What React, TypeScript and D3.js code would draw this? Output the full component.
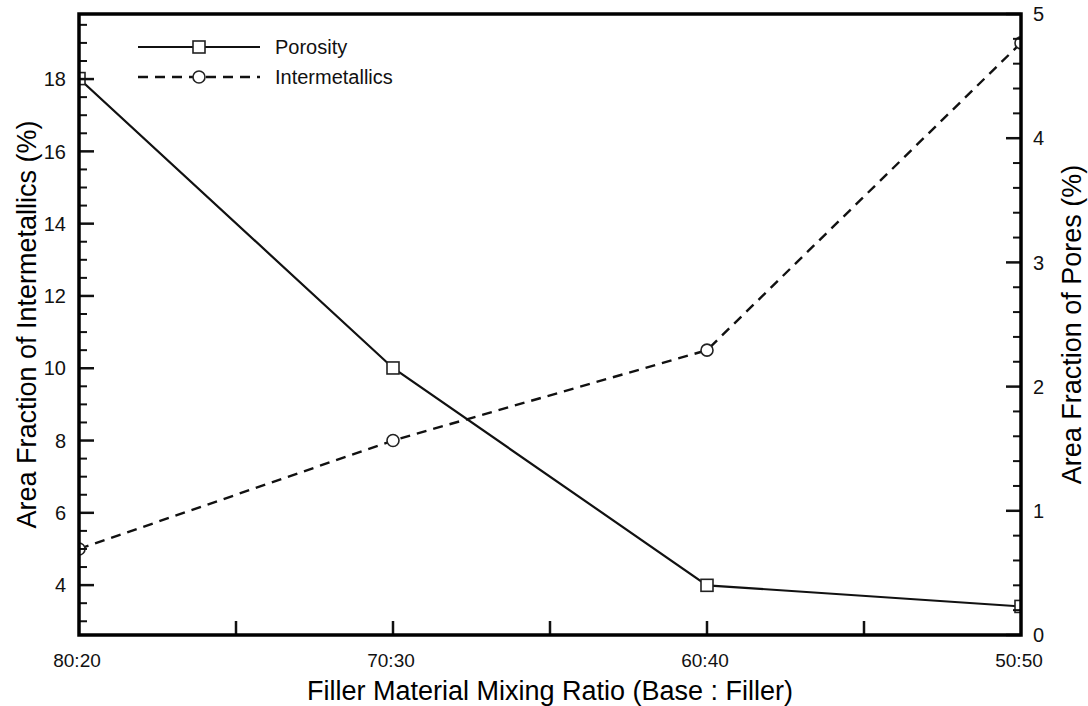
import React, { useRef, useEffect } from 'react';
import * as d3 from 'd3';

const ratios = ['80:20', '70:30', '60:40', '50:50'];
const porosity = [4.48, 2.15, 0.4, 0.23];
const intermetallics = [5.0, 8.0, 10.5, 19.0];
const leftTicks = [4, 6, 8, 10, 12, 14, 16, 18];
const rightTicks = [0, 1, 2, 3, 4, 5];
const leftDomain = [2.62, 19.8];
const rightDomain = [0, 5];

const FONT = '"Liberation Sans", Arial, Helvetica, sans-serif';

const App = () => {
    const ref = useRef<SVGSVGElement>(null);

    useEffect(() => {
        const svg = d3.select(ref.current);
        svg.selectAll('*').remove();

        const margin = { top: 14, right: 67, bottom: 71, left: 79 };
        const W = 1088, H = 706;
        const x0 = margin.left, x1 = W - margin.right;
        const y0 = H - margin.bottom, y1 = margin.top;

        const x = d3.scaleLinear().domain([0, ratios.length - 1]).range([x0, x1]);
        const yL = d3.scaleLinear().domain(leftDomain).range([y0, y1]);
        const yR = d3.scaleLinear().domain(rightDomain).range([y0, y1]);

        svg.append('defs').append('clipPath').attr('id', 'plotClip')
            .append('rect')
            .attr('x', x0).attr('y', y1)
            .attr('width', x1 - x0).attr('height', y0 - y1);

        const g = svg.append('g');
        const plot = g.append('g').attr('clip-path', 'url(#plotClip)');

        // data lines
        const linePor = d3.line<number>().x((_, i) => x(i)).y(d => yR(d));
        const lineInt = d3.line<number>().x((_, i) => x(i)).y(d => yL(d));

        plot.append('path')
            .datum(intermetallics)
            .attr('d', lineInt)
            .attr('fill', 'none')
            .attr('stroke', '#111')
            .attr('stroke-width', 2.4)
            .attr('stroke-dasharray', '10,7');

        plot.append('path')
            .datum(porosity)
            .attr('d', linePor)
            .attr('fill', 'none')
            .attr('stroke', '#111')
            .attr('stroke-width', 2.2);

        // markers
        plot.selectAll('.circ').data(intermetallics).enter().append('circle')
            .attr('cx', (_, i) => x(i))
            .attr('cy', d => yL(d))
            .attr('r', 6)
            .attr('fill', '#fff')
            .attr('stroke', '#222')
            .attr('stroke-width', 1.6);

        plot.selectAll('.sq').data(porosity).enter().append('rect')
            .attr('x', (_, i) => x(i) - 6)
            .attr('y', d => yR(d) - 6)
            .attr('width', 12)
            .attr('height', 12)
            .attr('fill', '#fff')
            .attr('stroke', '#222')
            .attr('stroke-width', 1.6);

        // left axis ticks (inward)
        const leftMinor = d3.range(3, 19.8, 0.5).filter(v => !leftTicks.includes(v));
        g.selectAll('.lmin').data(leftMinor).enter().append('line')
            .attr('x1', x0).attr('x2', x0 + 8)
            .attr('y1', d => yL(d)).attr('y2', d => yL(d))
            .attr('stroke', '#111').attr('stroke-width', 2);
        g.selectAll('.lmaj').data(leftTicks).enter().append('line')
            .attr('x1', x0).attr('x2', x0 + 15)
            .attr('y1', d => yL(d)).attr('y2', d => yL(d))
            .attr('stroke', '#111').attr('stroke-width', 2.5);
        g.selectAll('.llab').data(leftTicks).enter().append('text')
            .attr('x', x0 - 13)
            .attr('y', d => yL(d))
            .attr('dy', '0.36em')
            .attr('text-anchor', 'end')
            .style('font-family', FONT)
            .style('font-size', '20px')
            .attr('fill', '#111')
            .text(d => d);

        // right axis ticks (inward)
        const rightMinor = d3.range(0.2, 5, 0.2).filter(v => Math.abs(v - Math.round(v)) > 0.01);
        g.selectAll('.rmin').data(rightMinor).enter().append('line')
            .attr('x1', x1).attr('x2', x1 - 8)
            .attr('y1', d => yR(d)).attr('y2', d => yR(d))
            .attr('stroke', '#111').attr('stroke-width', 2);
        g.selectAll('.rmaj').data(rightTicks).enter().append('line')
            .attr('x1', x1).attr('x2', x1 - 15)
            .attr('y1', d => yR(d)).attr('y2', d => yR(d))
            .attr('stroke', '#111').attr('stroke-width', 2.5);
        g.selectAll('.rlab').data(rightTicks).enter().append('text')
            .attr('x', x1 + 12)
            .attr('y', d => yR(d))
            .attr('dy', '0.36em')
            .attr('text-anchor', 'start')
            .style('font-family', FONT)
            .style('font-size', '20px')
            .attr('fill', '#111')
            .text(d => d);

        // bottom axis ticks (inward), half steps
        const xTicks = d3.range(0.5, ratios.length - 1, 0.5);
        g.selectAll('.xt').data(xTicks).enter().append('line')
            .attr('x1', d => x(d)).attr('x2', d => x(d))
            .attr('y1', y0).attr('y2', y0 - 14)
            .attr('stroke', '#111').attr('stroke-width', 2.5);
        g.selectAll('.xlab').data(ratios).enter().append('text')
            .attr('x', (_, i) => x(i) - 2)
            .attr('y', y0 + 25)
            .attr('dy', '0.36em')
            .attr('text-anchor', 'middle')
            .style('font-family', FONT)
            .style('font-size', '19px')
            .attr('fill', '#111')
            .text(d => d);

        // frame
        g.append('rect')
            .attr('x', x0).attr('y', y1)
            .attr('width', x1 - x0).attr('height', y0 - y1)
            .attr('fill', 'none')
            .attr('stroke', '#000')
            .attr('stroke-width', 3.5);

        // axis titles
        g.append('text')
            .attr('x', (x0 + x1) / 2)
            .attr('y', 690)
            .attr('dy', '0.36em')
            .attr('text-anchor', 'middle')
            .style('font-family', FONT)
            .style('font-size', '27px')
            .attr('fill', '#000')
            .text('Filler Material Mixing Ratio (Base : Filler)');

        g.append('text')
            .attr('transform', `translate(26,${(y0 + y1) / 2}) rotate(-90)`)
            .attr('dy', '0.36em')
            .attr('text-anchor', 'middle')
            .style('font-family', FONT)
            .style('font-size', '27px')
            .attr('fill', '#000')
            .text('Area Fraction of Intermetallics (%)');

        g.append('text')
            .attr('transform', `translate(1071,${(y0 + y1) / 2}) rotate(-90)`)
            .attr('dy', '0.36em')
            .attr('text-anchor', 'middle')
            .style('font-family', FONT)
            .style('font-size', '27px')
            .attr('fill', '#000')
            .text('Area Fraction of Pores (%)');

        // legend
        const legendItems = [
            { name: 'Porosity', dash: null, shape: 'square' },
            { name: 'Intermetallics', dash: '10,7', shape: 'circle' }
        ];
        const legend = g.selectAll('.legend').data(legendItems).enter().append('g')
            .attr('transform', (_, i) => `translate(138,${47 + i * 30})`);
        legend.append('line')
            .attr('x1', 0).attr('x2', 122)
            .attr('stroke', '#111')
            .attr('stroke-width', d => d.dash ? 2.4 : 2.2)
            .attr('stroke-dasharray', d => d.dash);
        legend.each(function (d) {
            const sel = d3.select(this);
            if (d.shape === 'square') {
                sel.append('rect')
                    .attr('x', 61 - 6).attr('y', -6)
                    .attr('width', 12).attr('height', 12)
                    .attr('fill', '#fff').attr('stroke', '#222').attr('stroke-width', 1.6);
            } else {
                sel.append('circle')
                    .attr('cx', 61).attr('cy', 0).attr('r', 6)
                    .attr('fill', '#fff').attr('stroke', '#222').attr('stroke-width', 1.6);
            }
        });
        legend.append('text')
            .attr('x', 137)
            .attr('dy', '0.36em')
            .style('font-family', FONT)
            .style('font-size', '20px')
            .attr('fill', '#111')
            .text(d => d.name);
    }, []);

    return (
        <svg
            ref={ref}
            width={1088}
            height={706}
            style={{ position: 'absolute', left: 0, top: 0, background: '#fff' }}
        ></svg>
    );
};

export default App;
